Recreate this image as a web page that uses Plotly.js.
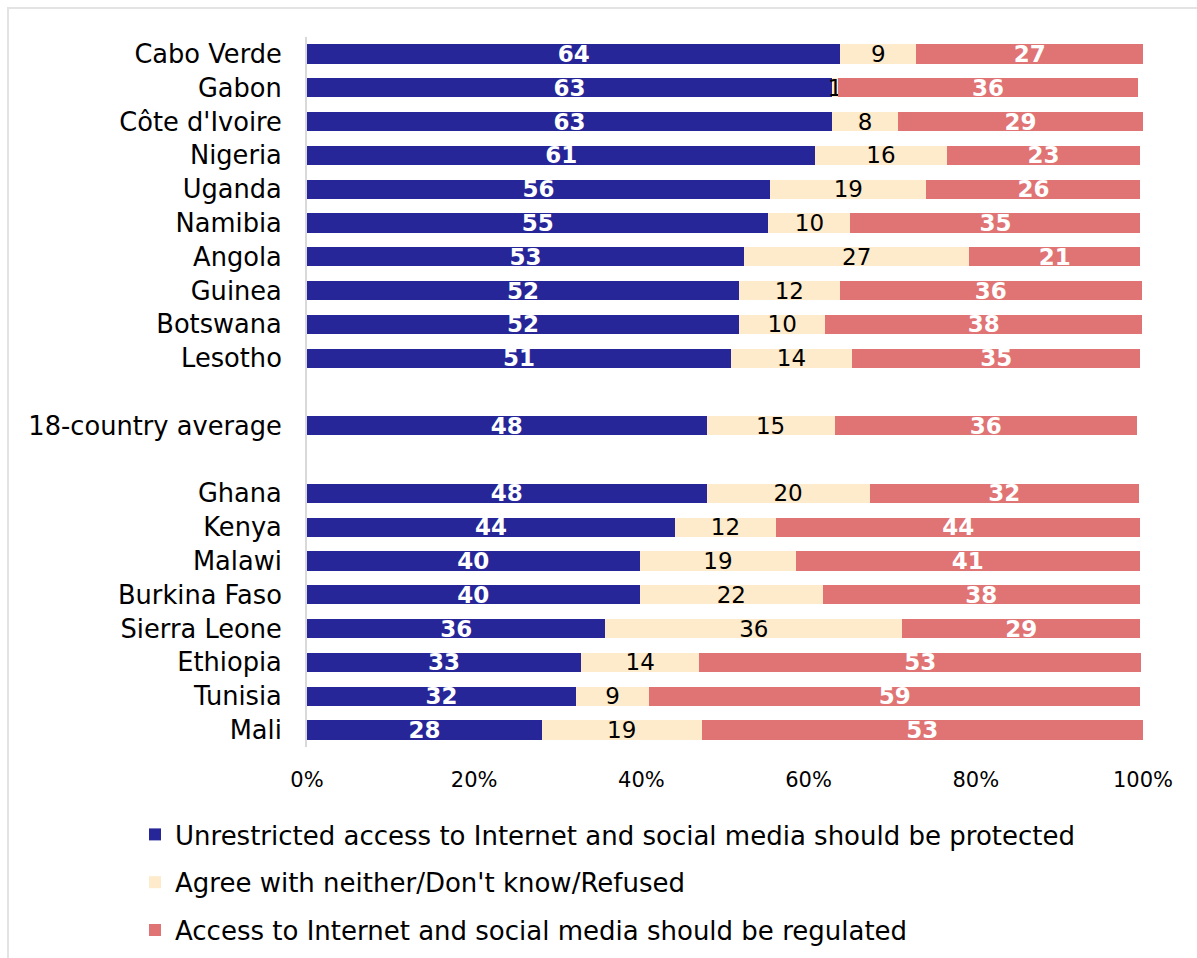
<!DOCTYPE html>
<html>
<head>
<meta charset="utf-8">
<script src="https://cdn.plot.ly/plotly-3.0.1.min.js"></script>
<style>
  html, body { margin: 0; padding: 0; background: #ffffff; overflow: hidden; }
  #chart { width: 1197px; height: 958px; }
  #frame { position: absolute; left: 7px; top: 7px; width: 1400px; height: 1200px;
           border-left: 2px solid #e3e3e3; border-top: 2px solid #e3e3e3; pointer-events: none; }
</style>
</head>
<body>
<div id="chart"></div>
<div id="frame"></div>
<script>
// Categories (blank entries are spacer rows)
const categories = ['Cabo Verde', 'Gabon', "Côte d'Ivoire", 'Nigeria', 'Uganda', 'Namibia', 'Angola',
  'Guinea', 'Botswana', 'Lesotho', ' ', '18-country average', '  ', 'Ghana', 'Kenya', 'Malawi',
  'Burkina Faso', 'Sierra Leone', 'Ethiopia', 'Tunisia', 'Mali'];

// Series values (%)
const protectedVals = [63.8, 62.8, 62.8, 60.8, 55.4, 55.2, 52.3, 51.7, 51.7, 50.7, null, 47.8, null,
  47.8, 44.0, 39.8, 39.8, 35.7, 32.8, 32.2, 28.1];
const neitherVals = [9.1, 0.75, 7.9, 15.7, 18.7, 9.8, 26.9, 12.0, 10.3, 14.5, null, 15.3, null,
  19.5, 12.1, 18.7, 21.9, 35.5, 14.1, 8.7, 19.1];
const regulatedVals = [27.1, 35.8, 29.3, 23.2, 25.6, 34.7, 20.5, 36.2, 37.9, 34.5, null, 36.2, null,
  32.2, 43.6, 41.1, 37.9, 28.5, 52.9, 58.8, 52.8];

// Data labels as printed
const protectedLbl = ['64', '63', '63', '61', '56', '55', '53', '52', '52', '51', '', '48', '',
  '48', '44', '40', '40', '36', '33', '32', '28'];
const neitherLbl = ['9', '1', '8', '16', '19', '10', '27', '12', '10', '14', '', '15', '',
  '20', '12', '19', '22', '36', '14', '9', '19'];
const regulatedLbl = ['27', '36', '29', '23', '26', '35', '21', '36', '38', '35', '', '36', '',
  '32', '44', '41', '38', '29', '53', '59', '53'];

const seriesNames = [
  'Unrestricted access to Internet and social media should be protected',
  "Agree with neither/Don't know/Refused",
  'Access to Internet and social media should be regulated'
];
const xTicks = [0, 20, 40, 60, 80, 100];
const xTickText = ['0%', '20%', '40%', '60%', '80%', '100%'];

const FONT = 'DejaVu Sans, Verdana, sans-serif';

function barTrace(vals, lbls, name, color, textColor, bold, group) {
  return {
    type: 'bar', orientation: 'h',
    x: vals, y: categories, name: name,
    legendgroup: group,
    marker: { color: color, line: { width: 0 } },
    width: 0.57,
    text: lbls, textposition: 'inside', insidetextanchor: 'middle',
    textangle: 0, constraintext: 'none',
    textfont: { family: FONT, size: 23, color: textColor, weight: bold ? 'bold' : 'normal' },
    hoverinfo: 'skip'
  };
}

const data = [
  barTrace(protectedVals, protectedLbl, seriesNames[0], '#262698', '#ffffff', true, 'a'),
  barTrace(neitherVals, neitherLbl, seriesNames[1], '#FDEBCC', '#000000', false, 'b'),
  barTrace(regulatedVals, regulatedLbl, seriesNames[2], '#E07373', '#ffffff', true, 'c')
];

const plotL = 307, plotR = 1143, plotT = 37, plotB = 747;
const layout = {
  width: 1197, height: 958,
  margin: { l: plotL, r: 1197 - plotR, t: plotT, b: 958 - plotB, autoexpand: false },
  paper_bgcolor: '#ffffff', plot_bgcolor: '#ffffff',
  barmode: 'stack',
  font: { family: FONT, color: '#000000' },
  showlegend: true,
  legend: {
    orientation: 'v', xref: 'paper', yref: 'paper',
    x: (135 - plotL) / (plotR - plotL), xanchor: 'left',
    y: -(811 - plotB) / (plotB - plotT), yanchor: 'top',
    traceorder: 'grouped', tracegroupgap: 11,
    font: { family: FONT, size: 26, color: '#000000' },
    bgcolor: 'rgba(0,0,0,0)'
  },
  xaxis: {
    range: [0, 100], tickvals: xTicks, ticktext: xTickText,
    showgrid: false, zeroline: false, showline: false, ticks: '',
    ticklabelstandoff: 18, automargin: false,
    tickfont: { family: FONT, size: 21, color: '#000000' },
    fixedrange: true
  },
  yaxis: {
    type: 'category', categoryorder: 'array', categoryarray: categories,
    autorange: 'reversed', automargin: false,
    showgrid: false, zeroline: false, showline: true, linecolor: '#d9d9d9', linewidth: 2,
    ticks: '', ticklabelstandoff: 18,
    tickfont: { family: FONT, size: 25.7, color: '#000000' },
    fixedrange: true
  }
};

Plotly.newPlot('chart', data, layout, { displayModeBar: false, staticPlot: true });
</script>
</body>
</html>
